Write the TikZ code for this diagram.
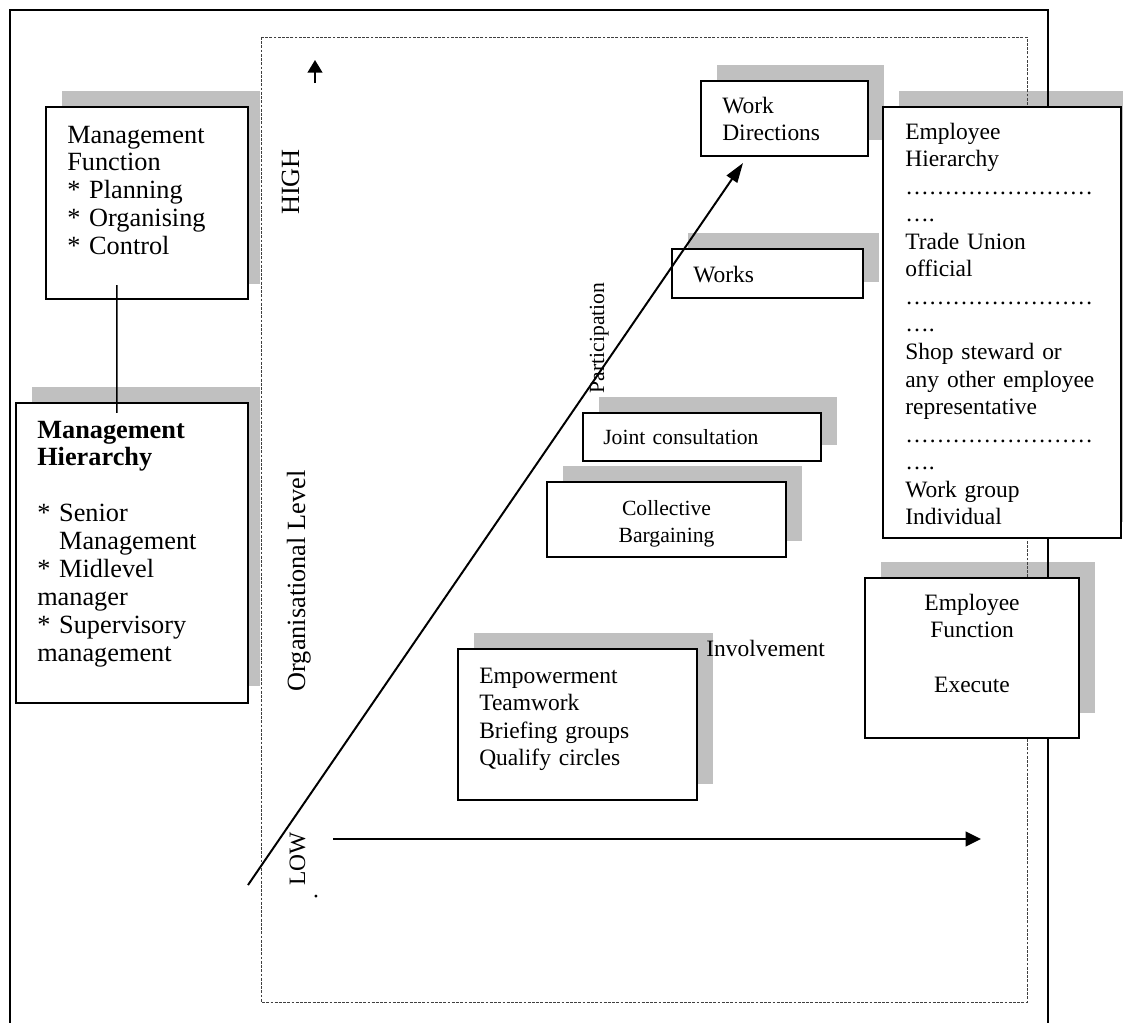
\documentclass[tikz,border=0pt]{standalone}
\usepackage{fontspec}
\setmainfont{Liberation Serif}
\usetikzlibrary{arrows.meta, calc, backgrounds}
\definecolor{shadowgray}{RGB}{192,192,192}
\newcommand{\fntbody}{\fontsize{16.7}{19.6}\selectfont}
\newcommand{\fntbig}{\fontsize{18.7}{19.9}\selectfont}
\newcommand{\fntsmall}{\fontsize{15.4}{19.7}\selectfont}

\begin{document}
\begin{tikzpicture}[
    x=0.025cm, y=-0.025cm,
    box/.style 2 args={rectangle, draw, line width=1.3pt, fill=white, inner sep=0pt,
                       outer sep=0pt, minimum width=#1, minimum height=#2},
    txt/.style={inner sep=0pt, anchor=base west, text width=#1, align=left, font=\fntbody},
    ctxt/.style={inner sep=0pt, anchor=base, text width=#1, align=center, font=\fntbody},
    vtxt/.style={inner sep=0pt, anchor=base, rotate=90},
    dropshade/.style={fill=shadowgray},
    dotframe/.style={draw=black!75, line width=0.6pt, dash pattern=on 2pt off 1pt},
    axisline/.style={line width=1.4pt}
]
    \useasboundingbox (0,0) rectangle (1123,1022);

    % --- frames ---
    \draw[line width=1.1pt] (10,1040) -- (10,10) -- (1048,10) -- (1048,1040);
    \draw[dotframe] (261,37) rectangle (1027,1002);

    % --- management side ---
    \node[box={5.05cm}{4.8cm}] (mf) at (147,203) {};
    \node[box={5.8cm}{7.5cm}] (mh) at (132,553) {};

    \node[txt=5cm, font=\fntbig] (mftext) at (67,143)
      {Management\\Function\\{*} Planning\\{*} Organising\\{*} Control};
    \node[txt=5.3cm, font=\fntbig] (mhtext) at (37,438)
      {\textbf{Management}\\\textbf{Hierarchy}\\[\baselineskip]{*} Senior\\\hphantom{* }Management\\{*} Midlevel\\manager\\{*} Supervisory\\management};

    \draw[line width=1.1pt] ($(mf.south west)+(71,-14)$) -- ($(mh.north west)+(101,10)$);

    % --- forms of participation ---
    \node[box={4.175cm}{1.875cm}] (wd) at (784.5,118.5) {};
    \node[box={4.775cm}{1.225cm}] (wk) at (767.5,273.5) {};
    \node[box={5.95cm}{1.2cm}] (jc) at (702,437) {};
    \node[box={5.975cm}{1.875cm}] (cb) at (666.5,519.5) {};
    \node[box={5.975cm}{3.775cm}] (emp) at (577.5,724.5) {};

    \node[txt=4cm] (wdtext) at (722,113) {Work\\Directions};
    \node[txt=4cm] (wktext) at (693,282) {Works};
    \node[txt=5.5cm, font=\fntsmall] (jctext) at (603,444) {Joint consultation};
    \node[ctxt=5.9cm, font=\fntsmall] (cbtext) at (666.5,515) {Collective\\Bargaining};
    \node[txt=5.5cm] (emptext) at (479,683)
      {Empowerment\\Teamwork\\Briefing groups\\Qualify circles};

    % --- employee side ---
    \node[box={5.95cm}{10.775cm}] (eh) at (1002,322.5) {};
    \node[box={5.35cm}{4cm}] (ef) at (972,658) {};

    \node[txt=5.4cm] (ehtext) at (905,139)
      {Employee\\Hierarchy\\……………………\\….\\Trade Union\\official\\……………………\\….\\Shop steward or\\any other employee\\representative\\……………………\\….\\Work group\\Individual};
    \node[ctxt=5.2cm] (eftext) at (972,610) {Employee\\Function\\[\baselineskip]Execute};

    % --- drop shadows ---
    \begin{scope}[on background layer]
      \fill[dropshade] ($(mf.south west)+(16,-15)$) rectangle ($(mf.north east)+(12,-16)$);
      \fill[dropshade] ($(mh.south west)+(16,-17)$) rectangle ($(mh.north east)+(12,-16)$);
      \foreach \b in {wd,wk,eh,jc,cb,emp}
        \fill[dropshade] ($(\b.south west)+(16,-16)$) rectangle ($(\b.north east)+(16,-16)$);
      \fill[dropshade] ($(ef.south west)+(16,-25)$) rectangle ($(ef.north east)+(16,-16)$);
    \end{scope}

    % --- axes ---
    \coordinate (levelfoot) at (315,83);
    \coordinate (levelhead) at (315,60);
    \coordinate (partfoot) at (248,885);
    \coordinate (parthead) at (743,163);
    \coordinate (invfoot) at (333,839);
    \coordinate (invhead) at (981,839);

    \draw[axisline, -{Triangle[length=9pt, width=10.5pt]}] (levelfoot) -- (levelhead);
    \draw[axisline, -{Triangle[length=14pt, width=9pt]}] (partfoot) -- (parthead);
    \draw[axisline, -{Triangle[length=11pt, width=10.5pt]}] (invfoot) -- (invhead);

    % --- axis labels ---
    \node[vtxt, font=\fntbig] (high) at (299,182) {HIGH};
    \node[vtxt, font=\fntbig] (orglevel) at (305,581) {Organisational Level};
    \node[vtxt, font=\fntbody] (low) at (305,859) {LOW};
    \node[vtxt, font=\fntbody] (lowdot) at (317,897) {.};
    \node[vtxt, font=\fntsmall] (particip) at (604,338) {Participation};
    \node[txt=4cm] (involv) at (706,656) {Involvement};

\end{tikzpicture}
\end{document}
